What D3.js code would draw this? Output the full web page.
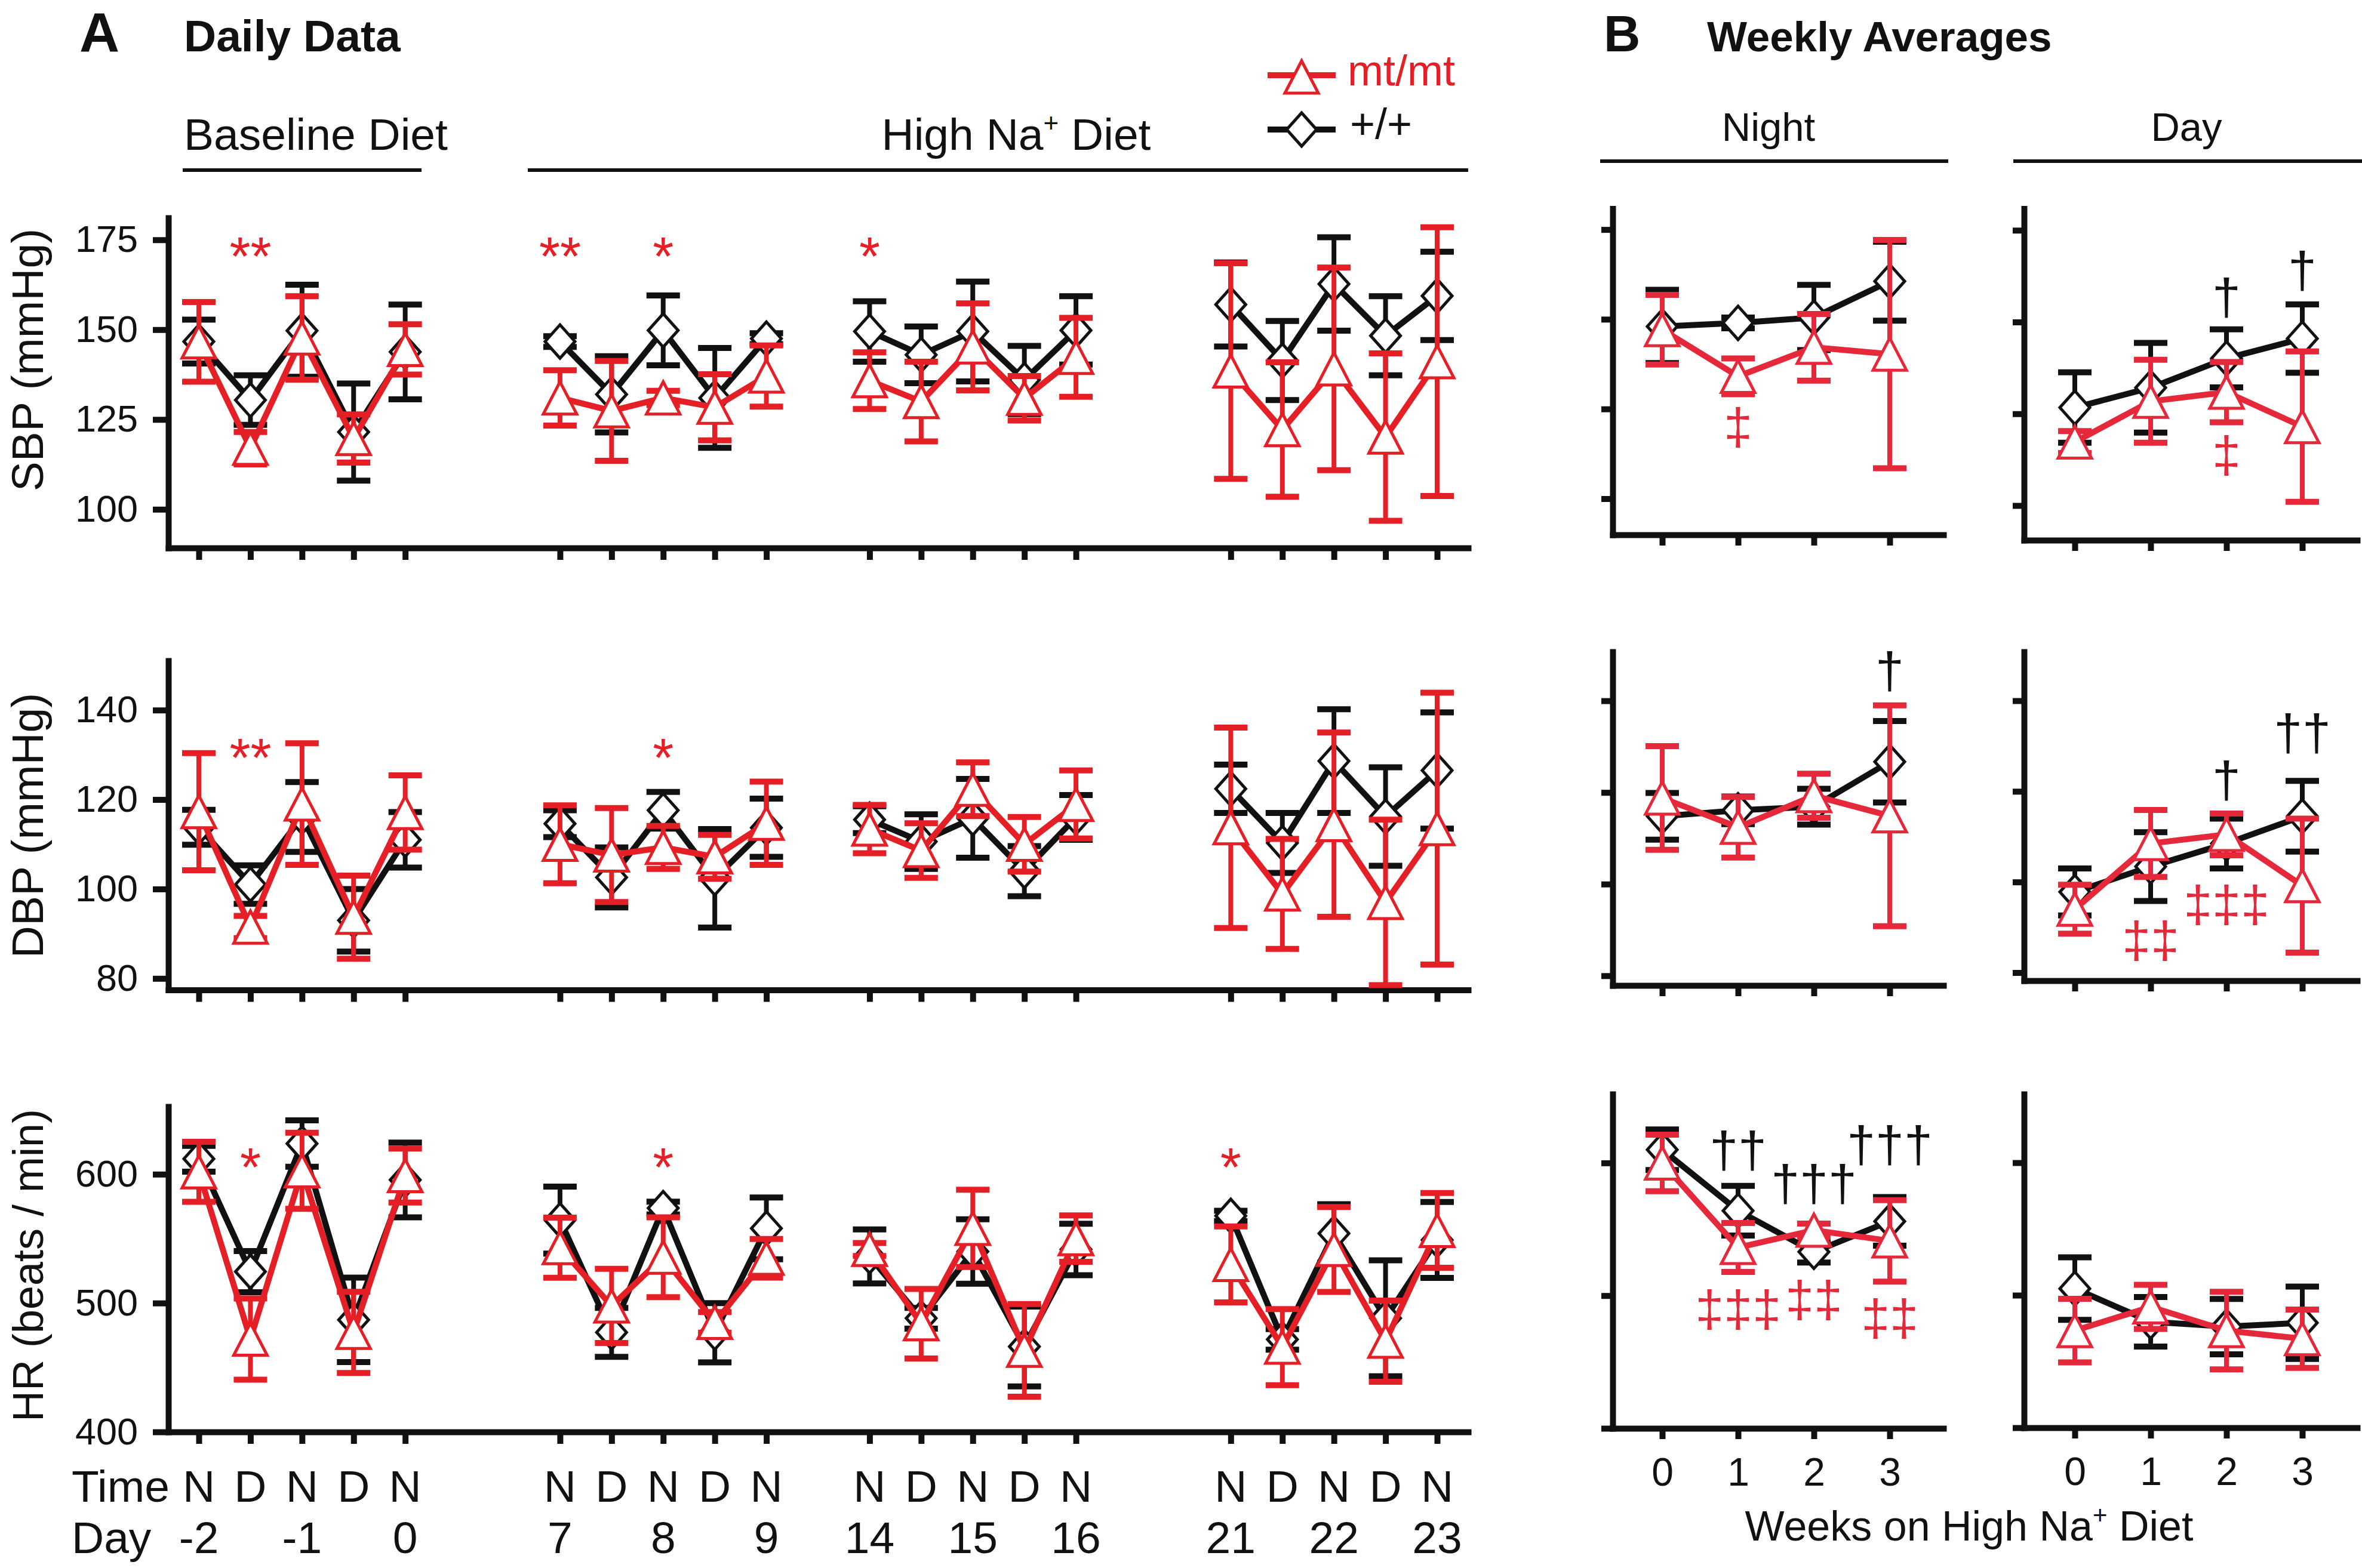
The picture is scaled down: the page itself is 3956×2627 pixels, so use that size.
<!DOCTYPE html>
<html><head><meta charset="utf-8">
<script src="https://cdn.jsdelivr.net/npm/d3@7"></script>
<style>body{margin:0;background:#fff}</style>
</head><body>
<script>
// ================= DATA =================
const timeLabels = ["N","D","N","D","N","N","D","N","D","N","N","D","N","D","N","N","D","N","D","N"];
const dayLabels  = ["-2","","-1","","0","7","","8","","9","14","","15","","16","21","","22","","23"];
const weeks = [0,1,2,3];
const sbpTicks = [100,125,150,175];
const dbpTicks = [80,100,120,140];
const hrTicks  = [400,500,600];

// Panel A daily data (+/+ = wt, mt/mt = mt)
const sbpWT    = [146.7,130.4,149.7,121.5,143.8, 146.7,132.0,149.8,131.0,147.5, 149.5,143.0,149.5,136.0,149.8, 157.0,141.4,162.7,148.3,159.4];
const sbpWTErr = [6.1,6.9,12.8,13.5,13.2, 1.5,10.6,9.7,13.9,1.5, 8.4,7.9,13.9,9.5,9.5, 11.7,11.0,13.0,11.0,12.3];
const sbpMT    = [146.6,117.0,147.7,119.7,144.5, 131.0,127.4,131.0,128.4,137.1, 135.8,130.0,145.2,130.9,142.3, 138.5,122.2,139.1,120.1,141.1];
const sbpMTErr = [11.1,4.5,11.6,6.7,7.0, 7.7,13.9,2.0,9.2,8.5, 7.9,11.1,12.1,6.2,11.0, 30.0,18.7,28.2,23.3,37.4];

const dbpWT    = [113.8,101.0,116.1,93.0,111.0, 114.6,102.6,117.6,102.4,113.7, 115.5,110.6,115.8,104.0,116.0, 122.4,110.3,128.6,116.2,126.5];
const dbpWTErr = [3.9,4.3,7.8,7.0,6.2, 3.0,6.7,4.1,11.0,6.5, 3.0,6.1,8.8,5.6,5.0, 5.4,6.7,11.6,11.0,13.0];
const dbpMT    = [117.3,91.5,119.0,93.7,117.1, 110.0,107.6,109.3,107.2,114.7, 113.4,108.6,122.3,110.0,118.9, 113.7,98.9,114.4,97.0,113.5];
const dbpMTErr = [13.1,2.5,13.6,9.3,8.3, 8.7,10.5,4.8,4.9,9.3, 5.4,6.1,6.0,6.1,7.6, 22.4,12.3,20.6,18.5,30.4];

const hrWT     = [612,524.4,623.8,487,595.6, 564.4,477.3,573.7,477,558, 536.2,488.2,540,466.3,541.6, 567.7,471.8,554,488.2,549];
const hrWTErr  = [10,16,18,32.8,29, 26,19,5,23,24, 21,8,25,31,20, 4,8,22.7,45,29.5];
const hrMT     = [601.9,472,602.7,477.3,599, 543,497.8,535.6,485,534.8, 541.6,484,558,463.3,550, 530,465.8,541.6,470.4,556.4];
const hrMTErr  = [23.3,31.5,29.5,31.5,21, 23.3,28.8,31,8,15, 5,27,30,36,18, 29.5,29.5,33,31.5,29];

// Significance marks, panel A (index into the 20 points)
const sbpSig = [{i:1,t:"**"},{i:5,t:"**"},{i:7,t:"*"},{i:10,t:"*"}];
const dbpSig = [{i:1,t:"**"},{i:7,t:"*"}];
const hrSig  = [{i:1,t:"*"},{i:7,t:"*"},{i:15,t:"*"}];
const sigLevelA = {SBP:173.5, DBP:131.9, HR:614};

// Panel B weekly averages
const sbpNightWT=[148,149,150.5,160.6],   sbpNightWTErr=[10.2,1.5,9.1,11];
const sbpNightMT=[147.1,134.1,142.2,140.3], sbpNightMTErr=[9.7,5,9.3,31.8];
const sbpDayWT=[126.7,132.1,140.1,145.5],   sbpDayWTErr=[9.6,12.2,7.9,9.3];
const sbpDayMT=[117.3,128.4,130.9,121.5],   sbpDayMTErr=[3,11.3,8.2,20.5];
const dbpNightWT=[114.8,116.1,116.9,126.7], dbpNightWTErr=[5.1,3,3.9,8.9];
const dbpNightMT=[118.8,112.4,119.3,114.9], dbpNightMTErr=[11.3,6.6,4.8,24.1];
const dbpDayWT=[97.8,103.4,108.5,114.5],    dbpDayWTErr=[5.2,7.6,5.5,7.8];
const dbpDayMT=[94,108.5,110.5,99.2],       dbpDayMTErr=[5.4,7.4,4.6,14.8];
const hrNightWT=[610,564,533,556],          hrNightWTErr=[15.3,18.7,8,18.3];
const hrNightMT=[600,536.3,549.3,541.3],    hrNightMTErr=[21.3,18.4,5,30.7];
const hrDayWT=[505,480,476.3,479.2],        hrDayWTErr=[23.6,18.7,20.9,27.3];
const hrDayMT=[473.3,491.2,473.3,467.2],    hrDayMTErr=[24,16.7,29.3,22];

// Significance marks, panel B (level in data units)
const sbpNightSig=[{w:1,t:"\u2021",c:"mt",level:119.3}];
const sbpDaySig=[{w:2,t:"\u2020",c:"wt",level:156},{w:3,t:"\u2020",c:"wt",level:163.2},{w:2,t:"\u2021",c:"mt",level:113.1}];
const dbpNightSig=[{w:3,t:"\u2020",c:"wt",level:145.9}];
const dbpDaySig=[{w:2,t:"\u2020",c:"wt",level:121.8},{w:3,t:"\u2020\u2020",c:"wt",level:132.2},{w:1,t:"\u2021\u2021",c:"mt",level:86.5},{w:2,t:"\u2021\u2021\u2021",c:"mt",level:94.4}];
const hrNightSig=[{w:1,t:"\u2020\u2020",c:"wt",level:607.4},{w:2,t:"\u2020\u2020\u2020",c:"wt",level:582.1},{w:3,t:"\u2020\u2020\u2020",c:"wt",level:611.4},{w:1,t:"\u2021\u2021\u2021",c:"mt",level:487.7},{w:2,t:"\u2021\u2021",c:"mt",level:494.9},{w:3,t:"\u2021\u2021",c:"mt",level:480.9}];
const hrDaySig=[];

// ================= LAYOUT =================
const W=3956,H=2627;
const FONT="'Liberation Sans', Arial, Helvetica, sans-serif";
const BLACK="#111111", REDA="#e41f26", REDB="#e5283a";
const svg=d3.select("body").append("svg").attr("width",W).attr("height",H)
  .attr("font-family",FONT).style("background","#fff");
svg.append("rect").attr("width",W).attr("height",H).attr("fill","#fff");

const triPath=(w,h)=>`M0,${-h/2}L${w/2},${h/2}L${-w/2},${h/2}Z`;
const diaPath=(w,h)=>`M0,${-h/2}L${w/2},0L0,${h/2}L${-w/2},0Z`;
const TRI=triPath(56,54), DIA=diaPath(50,56);

function scaleFrom(t1,t2,top,bottom){
  const s=d3.scaleLinear().domain([t1[0],t2[0]]).range([t1[1],t2[1]]);
  return d3.scaleLinear().domain([s.invert(bottom),s.invert(top)]).range([bottom,top]);
}

function drawSeries(g,xf,y,means,errs,color,shape,groups,st){
  const idx=d3.range(means.length);
  const eb=g.append("g");
  eb.append("g").selectAll("line").data(idx).join("line")
    .attr("x1",i=>xf(i)).attr("x2",i=>xf(i))
    .attr("y1",i=>y(means[i]-errs[i])).attr("y2",i=>y(means[i]+errs[i]))
    .attr("stroke",color).attr("stroke-width",st.eb);
  eb.append("g").selectAll("line").data(idx.flatMap(i=>[[i,1],[i,-1]])).join("line")
    .attr("x1",d=>xf(d[0])-st.cap/2).attr("x2",d=>xf(d[0])+st.cap/2)
    .attr("y1",d=>y(means[d[0]]+d[1]*errs[d[0]])).attr("y2",d=>y(means[d[0]]+d[1]*errs[d[0]]))
    .attr("stroke",color).attr("stroke-width",st.capW);
  const line=d3.line().x(i=>xf(i)).y(i=>y(means[i]));
  g.append("g").selectAll("path").data(groups).join("path")
    .attr("d",line).attr("fill","none").attr("stroke",color)
    .attr("stroke-width",st.line).attr("stroke-linejoin","round");
  g.append("g").selectAll("path").data(idx).join("path")
    .attr("transform",i=>`translate(${xf(i)},${y(means[i])})`)
    .attr("d",shape).attr("fill","#fff").attr("stroke",color)
    .attr("stroke-width",st.mk).attr("stroke-linejoin","miter");
}

function styleAxis(g,sw,fs){
  g.attr("font-family",FONT).attr("font-size",fs);
  g.selectAll("path,line").attr("stroke",BLACK).attr("stroke-width",sw);
  g.select("path.domain").attr("stroke-linecap","square");
  g.selectAll("text").attr("fill",BLACK);
}

function sigText(g,x,yc,t,color,fs,off){
  g.append("text").attr("x",x).attr("y",yc+off*fs).attr("text-anchor","middle")
    .attr("font-size",fs).attr("fill",color).text(t);
}

// ---------- Panel A ----------
const groupStart=[0,7,13,20];
const slotOf=i=>groupStart[Math.floor(i/5)]+i%5;
const xSlot=d3.scaleLinear().domain([0,24]).range([333,2407]);
const xAxisA=d3.scaleLinear().domain([xSlot.invert(282),xSlot.invert(2459)]).range([282,2459]);
const xA=i=>xSlot(slotOf(i));
const groupsA=[0,1,2,3].map(g=>d3.range(g*5,g*5+5));
const slots=d3.range(20).map(slotOf);

const aRows=[
 {key:"SBP",label:"SBP (mmHg)",lfs:75,ticks:sbpTicks,t1:[175,401.8],t2:[100,853.3],top:365,bottom:918,
  wt:sbpWT,wtE:sbpWTErr,mt:sbpMT,mtE:sbpMTErr,sig:sbpSig,labelY:603},
 {key:"DBP",label:"DBP (mmHg)",lfs:75,ticks:dbpTicks,t1:[140,1189.7],t2:[80,1639.3],top:1107,bottom:1658.5,
  wt:dbpWT,wtE:dbpWTErr,mt:dbpMT,mtE:dbpMTErr,sig:dbpSig,labelY:1383},
 {key:"HR",label:"HR (beats / min)",lfs:72,ticks:hrTicks,t1:[600,1967.3],t2:[400,2399],top:1854,bottom:2399,
  wt:hrWT,wtE:hrWTErr,mt:hrMT,mtE:hrMTErr,sig:hrSig,labelY:2120}
];
const stA={eb:8,cap:56,capW:10,line:10,mk:5};

aRows.forEach(r=>{
  const y=scaleFrom(r.t1,r.t2,r.top,r.bottom);
  const gy=svg.append("g").attr("transform","translate(282,0)")
    .call(d3.axisLeft(y).tickValues(r.ticks).tickSize(26).tickPadding(25).tickSizeOuter(0));
  styleAxis(gy,10,63);
  const gx=svg.append("g").attr("transform",`translate(0,${r.bottom})`)
    .call(d3.axisBottom(xAxisA).tickValues(slots).tickSize(20).tickFormat("").tickSizeOuter(0));
  styleAxis(gx,10,63);
  const pg=svg.append("g");
  drawSeries(pg,xA,y,r.wt,r.wtE,BLACK,DIA,groupsA,stA);
  drawSeries(pg,xA,y,r.mt,r.mtE,REDA,TRI,groupsA,stA);
  r.sig.forEach(s=>sigText(svg,xA(s.i),y(sigLevelA[r.key]),s.t,REDA,90,0.56));
  svg.append("text").attr("transform",`translate(72,${r.labelY}) rotate(-90)`)
    .attr("text-anchor","middle").attr("font-size",r.lfs).attr("fill",BLACK).text(r.label);
});

// x labels panel A
svg.append("text").attr("x",120).attr("y",2516).attr("font-size",75).attr("fill",BLACK).text("Time");
svg.append("text").attr("x",120).attr("y",2602).attr("font-size",75).attr("fill",BLACK).text("Day");
svg.append("g").selectAll("text").data(d3.range(20)).join("text")
  .attr("x",i=>xA(i)).attr("y",2516).attr("text-anchor","middle").attr("font-size",75).attr("fill",BLACK)
  .text(i=>timeLabels[i]);
svg.append("g").selectAll("text").data(d3.range(20).filter(i=>dayLabels[i]!=="")).join("text")
  .attr("x",i=>xA(i)).attr("y",2602).attr("text-anchor","middle").attr("font-size",75).attr("fill",BLACK)
  .text(i=>dayLabels[i]);

// Headers panel A
svg.append("text").attr("x",133).attr("y",86).attr("font-size",93).attr("font-weight","bold").attr("fill",BLACK).text("A");
svg.append("text").attr("x",308).attr("y",86).attr("font-size",75).attr("font-weight","bold").attr("fill",BLACK).text("Daily Data");
svg.append("text").attr("x",308).attr("y",251).attr("font-size",75).attr("fill",BLACK).text("Baseline Diet");
svg.append("line").attr("x1",306).attr("x2",706).attr("y1",285).attr("y2",285).attr("stroke",BLACK).attr("stroke-width",6);
const hn=svg.append("text").attr("x",1702).attr("y",251).attr("text-anchor","middle").attr("font-size",75).attr("fill",BLACK);
hn.append("tspan").text("High Na");
hn.append("tspan").attr("font-size",44).attr("dy",-30).text("+");
hn.append("tspan").attr("dy",30).text(" Diet");
svg.append("line").attr("x1",884).attr("x2",2459).attr("y1",285).attr("y2",285).attr("stroke",BLACK).attr("stroke-width",6);

// Legend
const lg=svg.append("g");
lg.append("line").attr("x1",2123).attr("x2",2237).attr("y1",126).attr("y2",126).attr("stroke",REDA).attr("stroke-width",10);
lg.append("path").attr("transform","translate(2180,129)").attr("d",TRI).attr("fill","#fff").attr("stroke",REDA).attr("stroke-width",5);
lg.append("text").attr("x",2257).attr("y",143).attr("font-size",72).attr("fill",REDA).text("mt/mt");
lg.append("line").attr("x1",2123).attr("x2",2237).attr("y1",217).attr("y2",217).attr("stroke",BLACK).attr("stroke-width",10);
lg.append("path").attr("transform","translate(2180,217)").attr("d",DIA).attr("fill","#fff").attr("stroke",BLACK).attr("stroke-width",5);
lg.append("text").attr("x",2261).attr("y",232).attr("font-size",72).attr("fill",BLACK).text("+/+");

// ---------- Panel B ----------
svg.append("text").attr("x",2686).attr("y",86).attr("font-size",85).attr("font-weight","bold").attr("fill",BLACK).text("B");
svg.append("text").attr("x",2859).attr("y",86).attr("font-size",71).attr("font-weight","bold").attr("fill",BLACK).text("Weekly Averages");
svg.append("text").attr("x",2962).attr("y",236).attr("text-anchor","middle").attr("font-size",67).attr("fill",BLACK).text("Night");
svg.append("text").attr("x",3662).attr("y",236).attr("text-anchor","middle").attr("font-size",67).attr("fill",BLACK).text("Day");
svg.append("line").attr("x1",2680).attr("x2",3263).attr("y1",270).attr("y2",270).attr("stroke",BLACK).attr("stroke-width",6);
svg.append("line").attr("x1",3372).attr("x2",3956).attr("y1",270).attr("y2",270).attr("stroke",BLACK).attr("stroke-width",6);

const cols={
  Night:{yAxisX:2701,x0:2784,x3:3165,right:3255},
  Day:{yAxisX:3390,x0:3475,x3:3856,right:3948}
};
const bPanels=[
 {col:"Night",ticks:sbpTicks,t1:[175,384.6],t2:[100,835.5],top:349.5,bottom:896,wt:sbpNightWT,wtE:sbpNightWTErr,mt:sbpNightMT,mtE:sbpNightMTErr,sig:sbpNightSig,labels:false},
 {col:"Day",ticks:sbpTicks,t1:[175,385.8],t2:[100,847],top:349.5,bottom:905,wt:sbpDayWT,wtE:sbpDayWTErr,mt:sbpDayMT,mtE:sbpDayMTErr,sig:sbpDaySig,labels:false},
 {col:"Night",ticks:dbpTicks,t1:[140,1174.1],t2:[80,1634.8],top:1092,bottom:1651,wt:dbpNightWT,wtE:dbpNightWTErr,mt:dbpNightMT,mtE:dbpNightMTErr,sig:dbpNightSig,labels:false},
 {col:"Day",ticks:dbpTicks,t1:[140,1174],t2:[80,1629.5],top:1092,bottom:1643,wt:dbpDayWT,wtE:dbpDayWTErr,mt:dbpDayMT,mtE:dbpDayMTErr,sig:dbpDaySig,labels:false},
 {col:"Night",ticks:hrTicks,t1:[600,1948.4],t2:[400,2393],top:1833,bottom:2393,wt:hrNightWT,wtE:hrNightWTErr,mt:hrNightMT,mtE:hrNightMTErr,sig:hrNightSig,labels:true},
 {col:"Day",ticks:hrTicks,t1:[600,1948],t2:[400,2392],top:1833,bottom:2392,wt:hrDayWT,wtE:hrDayWTErr,mt:hrDayMT,mtE:hrDayMTErr,sig:hrDaySig,labels:true}
];
const stB={eb:8,cap:56,capW:10,line:10,mk:5};
const groupsB=[weeks];

bPanels.forEach(p=>{
  const c=cols[p.col];
  const y=scaleFrom(p.t1,p.t2,p.top,p.bottom);
  const xw=d3.scaleLinear().domain([0,3]).range([c.x0,c.x3]);
  const xAx=d3.scaleLinear().domain([xw.invert(c.yAxisX),xw.invert(c.right)]).range([c.yAxisX,c.right]);
  const gy=svg.append("g").attr("transform",`translate(${c.yAxisX},0)`)
    .call(d3.axisLeft(y).tickValues(p.ticks).tickSize(19).tickFormat("").tickSizeOuter(0));
  styleAxis(gy,10,66);
  const gx=svg.append("g").attr("transform",`translate(0,${p.bottom})`)
    .call(d3.axisBottom(xAx).tickValues(weeks).tickSize(18).tickPadding(31)
      .tickFormat(p.labels?d3.format("d"):"").tickSizeOuter(0));
  styleAxis(gx,10,66);
  const pg=svg.append("g");
  drawSeries(pg,xw,y,p.wt,p.wtE,BLACK,DIA,groupsB,stB);
  drawSeries(pg,xw,y,p.mt,p.mtE,REDB,TRI,groupsB,stB);
  p.sig.forEach(s=>sigText(svg,xw(s.w),y(s.level),s.t,s.c==="wt"?BLACK:REDB,86,0.28));
});

const wk=svg.append("text").attr("x",3298).attr("y",2581).attr("text-anchor","middle").attr("font-size",70).attr("fill",BLACK);
wk.append("tspan").text("Weeks on High Na");
wk.append("tspan").attr("font-size",42).attr("dy",-28).text("+");
wk.append("tspan").attr("dy",28).text(" Diet");
</script>
</body></html>
